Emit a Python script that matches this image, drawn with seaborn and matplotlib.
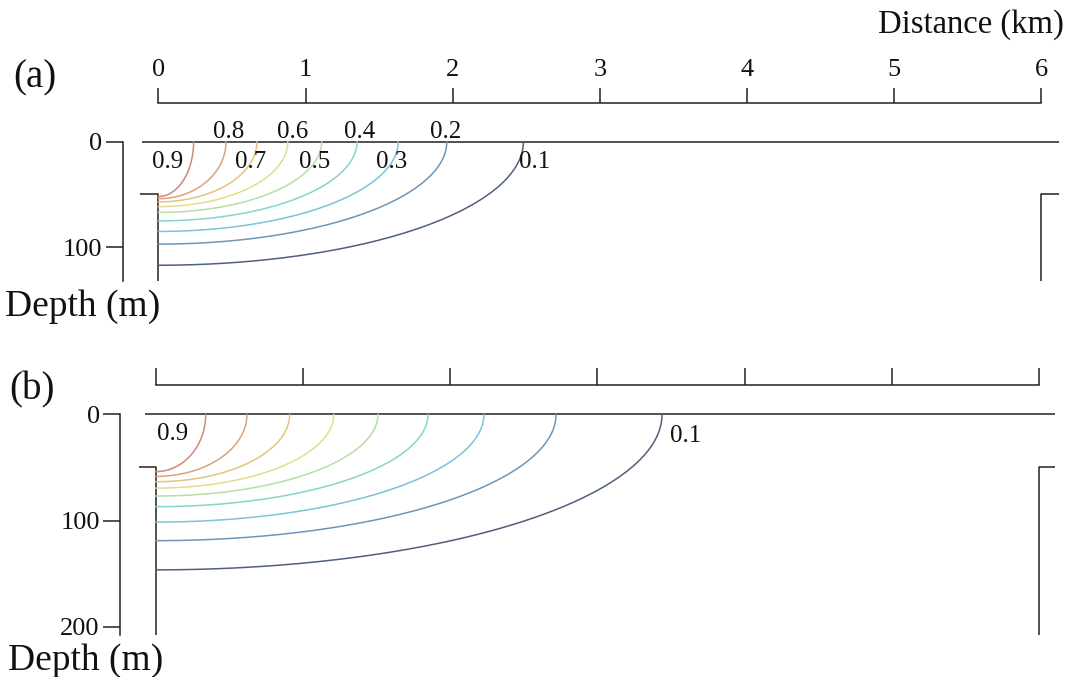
import numpy as np
import pandas as pd
import matplotlib
matplotlib.use("Agg")
import matplotlib.pyplot as plt
import seaborn as sns

# Contour levels of the relative field and where each isoline meets the
# sea surface (distance, km) and the coastal wall (depth, m).
levels = [0.9, 0.8, 0.7, 0.6, 0.5, 0.4, 0.3, 0.2, 0.1]
surface_km_a = [0.24, 0.46, 0.67, 0.88, 1.11, 1.35, 1.63, 1.96, 2.48]
wall_m_a = [52, 54, 57, 61.5, 67, 75, 85, 97, 117]
surface_km_b = [0.34, 0.62, 0.91, 1.21, 1.51, 1.85, 2.23, 2.72, 3.44]
wall_m_b = [54, 58.5, 63.5, 69.5, 77, 87, 101.5, 119, 146.5]

level_colors = ["#cc8a78", "#d9a27a", "#e6c27e", "#e3dc8e", "#b5dfa8",
                "#86d4cc", "#7cc3d6", "#6c96bb", "#4f5f80"]

distance_ticks = [0, 1, 2, 3, 4, 5, 6]
depth_ticks_a = [0, 100]
depth_ticks_b = [0, 100, 200]
shelf_depth = 50        # depth of the step at both ends of the section (m)
basin_width = 6         # km

# which levels carry a label, with their offsets from the surface crossing
labels_a = {0.8: (0.02, -9.5), 0.6: (0.035, -9.5), 0.4: (0.017, -9.5),
            0.2: (-0.01, -9.5), 0.9: (-0.177, 18.9), 0.7: (-0.046, 18.9),
            0.5: (-0.045, 18.9), 0.3: (-0.044, 18.9), 0.1: (0.079, 18.9)}
labels_b = {0.9: (-0.227, 18.5), 0.1: (0.159, 20.4)}

W, H = 1066, 677
fig = plt.figure(figsize=(W / 100, H / 100), dpi=100)
sns.set_theme(style="white")
plt.rcParams["font.family"] = ["Liberation Serif", "DejaVu Serif"]

INK = "#222222"
KM_PX = 147.2
X_RIGHT = 6.15


def isolines(surface_km, wall_m):
    """Elliptical arc for each level, from the surface crossing to the wall."""
    t = np.linspace(0, np.pi / 2, 150)
    frames = []
    for lev, a, b in zip(levels, surface_km, wall_m):
        frames.append(pd.DataFrame({"level": lev,
                                    "distance": a * np.cos(t),
                                    "depth": b * np.sin(t)}))
    return pd.concat(frames, ignore_index=True)


def panel(x0_px, y0_px, m_px, axis_left_px, top_spine_px, depth_bottom,
          depth_ticks, show_xlabels, surface_ext, notch_left, tick_len_x):
    x_left = (axis_left_px - x0_px) / KM_PX
    y_top = (top_spine_px - y0_px) / m_px
    right_px = x0_px + KM_PX * X_RIGHT
    bottom_px = y0_px + m_px * depth_bottom
    ax = fig.add_axes([axis_left_px / W, 1 - bottom_px / H,
                       (right_px - axis_left_px) / W,
                       (bottom_px - top_spine_px) / H])
    ax.set_xlim(x_left, X_RIGHT)
    ax.set_ylim(depth_bottom, y_top)
    ax.patch.set_alpha(0)

    for side in ("right", "bottom"):
        ax.spines[side].set_visible(False)
    for side in ("top", "left"):
        ax.spines[side].set_color(INK)
        ax.spines[side].set_linewidth(1.1)
    ax.spines["top"].set_bounds(0, basin_width)
    ax.spines["left"].set_bounds(0, depth_bottom)

    ax.xaxis.tick_top()
    ax.set_xticks(distance_ticks)
    ax.set_xticklabels([str(v) for v in distance_ticks] if show_xlabels
                       else [])
    ax.tick_params(axis="x", which="both", top=True, bottom=False,
                   labeltop=show_xlabels, labelbottom=False,
                   direction="out", length=tick_len_x, width=1.1,
                   color=INK, pad=5, labelsize=19, labelcolor="#111111")
    ax.set_yticks(depth_ticks)
    ax.tick_params(axis="y", left=True, direction="out", length=12.5,
                   width=1.1, color=INK, pad=2.0, labelsize=19,
                   labelcolor="#111111")
    ax.grid(False)

    # sea surface and the stepped coastline at both ends
    kw = dict(color=INK, lw=1.1, clip_on=False, solid_capstyle="butt")
    ax.plot([surface_ext[0], surface_ext[1]], [0, 0], **kw)
    ax.plot([notch_left, 0, 0], [shelf_depth, shelf_depth, depth_bottom], **kw)
    ax.plot([surface_ext[1], basin_width, basin_width],
            [shelf_depth, shelf_depth, depth_bottom], **kw)
    return ax


def draw_isolines(ax, surface_km, wall_m, labels):
    df = isolines(surface_km, wall_m)
    sns.lineplot(data=df, x="distance", y="depth", hue="level",
                 palette=dict(zip(levels, level_colors)), sort=False,
                 estimator=None, legend=False, linewidth=1.1, ax=ax)
    ax.set_xlabel("")
    ax.set_ylabel("")
    crossing = dict(zip(levels, surface_km))
    for lev, (dx, dz) in labels.items():
        ax.text(crossing[lev] + dx, dz, f"{lev:.1f}", ha="center",
                va="center", fontsize=18, color="#111111")


ax_a = panel(158.3, 141.7, 1.056, 122.7, 102.7, 132, depth_ticks_a, True,
             (-0.11, 6.12), -0.124, 10.5)
draw_isolines(ax_a, surface_km_a, wall_m_a, labels_a)

ax_b = panel(155.7, 414.3, 1.062, 120.0, 385.0, 208, depth_ticks_b, False,
             (-0.073, 6.11), -0.111, 12.0)
draw_isolines(ax_b, surface_km_b, wall_m_b, labels_b)


def ftext(px, py, s, **kw):
    fig.text(px / W, 1 - py / H, s, color="#111111", **kw)


ftext(35, 78, "(a)", fontsize=28, ha="center", va="center")
ftext(32, 390, "(b)", fontsize=28, ha="center", va="center")
ftext(1064, 33, "Distance (km)", fontsize=23.5, ha="right", va="baseline")
ftext(5, 316, "Depth (m)", fontsize=27, ha="left", va="baseline")
ftext(8, 670, "Depth (m)", fontsize=27, ha="left", va="baseline")

fig.savefig("out.png", dpi=100, facecolor="white")
